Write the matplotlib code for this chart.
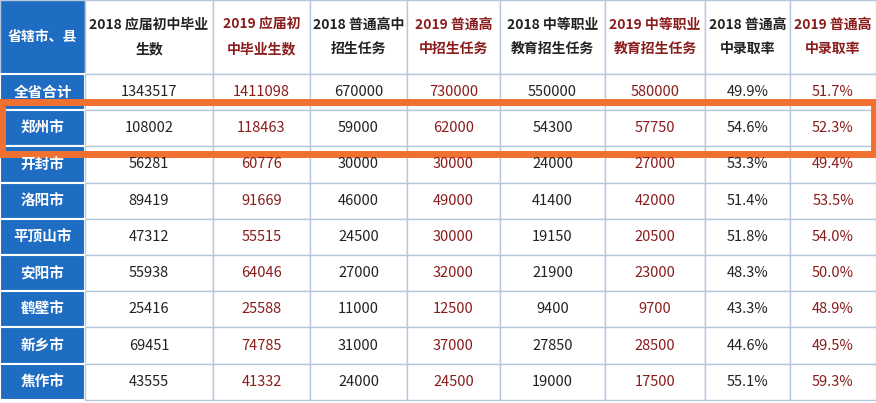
import matplotlib
matplotlib.use("Agg")
import matplotlib.pyplot as plt
from matplotlib.patches import Rectangle

plt.rcParams['font.family'] = ['Noto Sans CJK SC', 'DejaVu Sans']

headers = ["省辖市、县", "2018 应届初中毕业\n生数", "2019 应届初\n中毕业生数", "2018 普通高中\n招生任务",
           "2019 普通高\n中招生任务", "2018 中等职业\n教育招生任务", "2019 中等职业\n教育招生任务",
           "2018 普通高\n中录取率", "2019 普通高\n中录取率"]
regions = ["全省合计", "郑州市", "开封市", "洛阳市", "平顶山市", "安阳市", "鹤壁市", "新乡市", "焦作市"]
grad2018 = ["1343517", "108002", "56281", "89419", "47312", "55938", "25416", "69451", "43555"]
grad2019 = ["1411098", "118463", "60776", "91669", "55515", "64046", "25588", "74785", "41332"]
hs2018 = ["670000", "59000", "30000", "46000", "24500", "27000", "11000", "31000", "24000"]
hs2019 = ["730000", "62000", "30000", "49000", "30000", "32000", "12500", "37000", "24500"]
voc2018 = ["550000", "54300", "24000", "41400", "19150", "21900", "9400", "27850", "19000"]
voc2019 = ["580000", "57750", "27000", "42000", "20500", "23000", "9700", "28500", "17500"]
rate2018 = ["49.9%", "54.6%", "53.3%", "51.4%", "51.8%", "48.3%", "43.3%", "44.6%", "55.1%"]
rate2019 = ["51.7%", "52.3%", "49.4%", "53.5%", "54.0%", "50.0%", "48.9%", "49.5%", "59.3%"]

cols = [grad2018, grad2019, hs2018, hs2019, voc2018, voc2019, rate2018, rate2019]
is2019 = [False, True, False, True, False, True, False, True]

xb = [0, 85, 213, 310, 407, 500, 605, 705, 790, 876]
header_h = 74
row_h = 36.2

fig = plt.figure(figsize=(8.76, 4.03), dpi=100)
ax = fig.add_axes([0, 0, 1, 1])
ax.set_xlim(0, 876)
ax.set_ylim(403, 0)
ax.axis('off')

blue = "#1f6dc2"
red = "#8a1c1c"
grid = "#b8c8dc"

# header
for j in range(9):
    x0, x1 = xb[j], xb[j + 1]
    fc = blue if j == 0 else "white"
    ax.add_patch(Rectangle((x0, 0), x1 - x0, header_h, fc=fc, ec=grid, lw=1))
    color = "white" if j == 0 else (red if j > 0 and is2019[j - 1] else "#222222")
    ax.text((x0 + x1) / 2, header_h / 2, headers[j], ha='center', va='center',
            fontsize=10, fontweight='bold', color=color, linespacing=1.9)

for i, reg in enumerate(regions):
    y0 = header_h + i * row_h
    ax.add_patch(Rectangle((0, y0), xb[1], row_h, fc=blue, ec="white", lw=1.5))
    ax.text(xb[1] / 2, y0 + row_h / 2, reg, ha='center', va='center', fontsize=10.5,
            fontweight='bold', color='white')
    for j, col in enumerate(cols):
        x0, x1 = xb[j + 1], xb[j + 2]
        ax.add_patch(Rectangle((x0, y0), x1 - x0, row_h, fc="white", ec=grid, lw=1))
        ax.text((x0 + x1) / 2, y0 + row_h / 2, col[i], ha='center', va='center',
                fontsize=10.5, color=(red if is2019[j] else "#222222"))

# highlight box around 郑州市
hy = header_h + row_h
ax.add_patch(Rectangle((2, hy - 8), 872, row_h + 16, fc='none', ec="#f07030", lw=5))

fig.savefig("out.png", dpi=100)
